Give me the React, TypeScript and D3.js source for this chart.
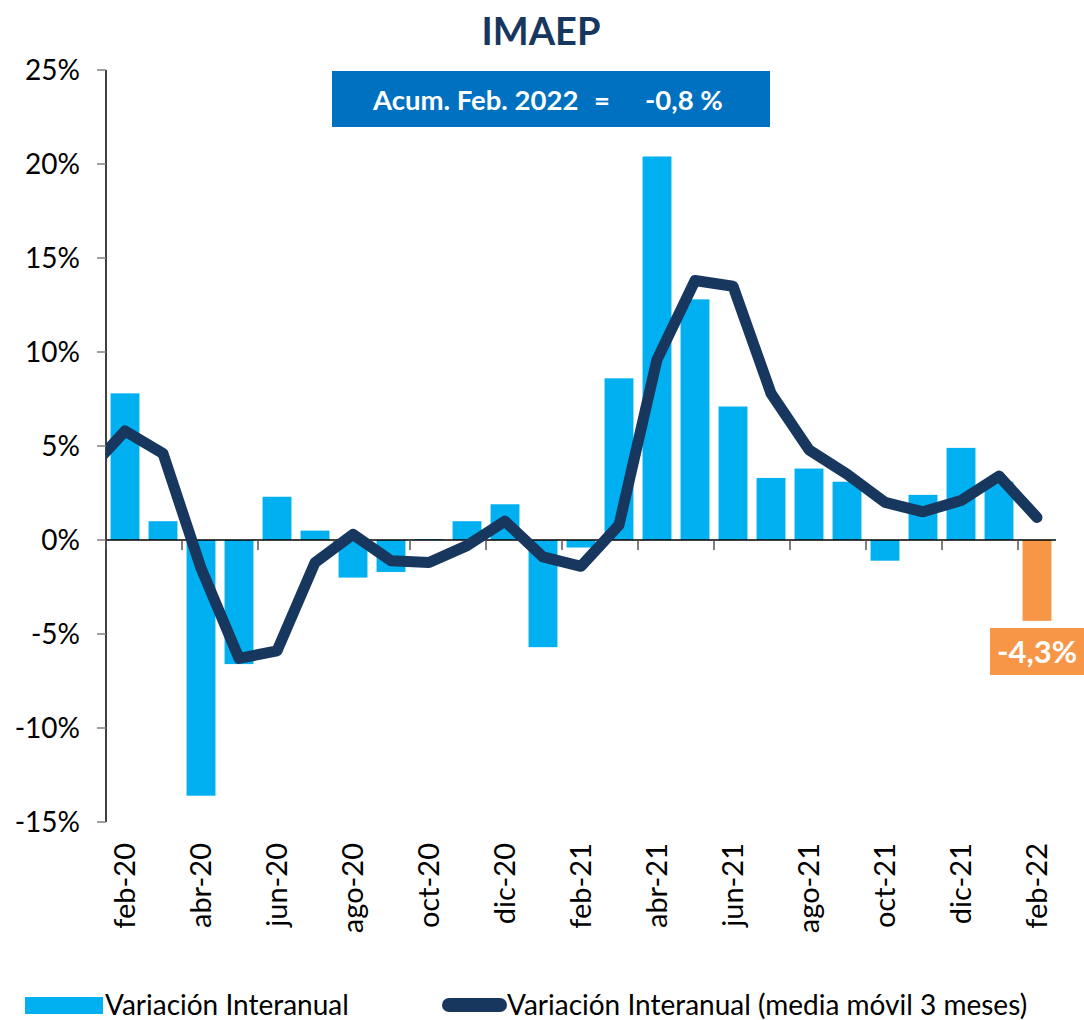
import React from "react";
import * as d3 from "d3";

const months = [
  "feb-20","mar-20","abr-20","may-20","jun-20","jul-20","ago-20","sep-20","oct-20","nov-20","dic-20",
  "ene-21","feb-21","mar-21","abr-21","may-21","jun-21","jul-21","ago-21","sep-21","oct-21","nov-21","dic-21",
  "ene-22","feb-22",
];
const interanual = [
  7.8, 1.0, -13.6, -6.6, 2.3, 0.5, -2.0, -1.7, 0.05, 1.0, 1.9,
  -5.7, -0.4, 8.6, 20.4, 12.8, 7.1, 3.3, 3.8, 3.1, -1.1, 2.4, 4.9,
  3.1, -4.3,
];
// previous month (ene-20) moving average, clipped at the axis
const mediaMovilPrev = 3.6;
const mediaMovil = [
  5.8, 4.6, -1.5, -6.3, -5.9, -1.2, 0.3, -1.1, -1.2, -0.3, 1.0,
  -0.9, -1.4, 0.8, 9.6, 13.8, 13.5, 7.8, 4.8, 3.5, 2.0, 1.5, 2.1,
  3.4, 1.2,
];
const yTicks = [25, 20, 15, 10, 5, 0, -5, -10, -15];
const xLabels = ["feb-20","abr-20","jun-20","ago-20","oct-20","dic-20","feb-21","abr-21","jun-21","ago-21","oct-21","dic-21","feb-22"];

const FONT = "Lato, 'Open Sans', sans-serif";
const LIGHT = "#00b0f0";
const DARK = "#17375e";
const ORANGE = "#f79646";

export default function App() {
  const W = 1084, H = 1020;
  const left = 106, right = 1056, top = 70, bottom = 822;
  const x = d3.scaleBand<string>().domain(months).range([left, right]).paddingInner(0.24).paddingOuter(0.12);
  const step = x.step();
  const y = d3.scaleLinear().domain([-15, 25]).range([bottom, top]);
  const cx = (i: number) => (x(months[i]) as number) + x.bandwidth() / 2;

  const pts: [number, number][] = [[cx(0) - step, y(mediaMovilPrev)], ...mediaMovil.map((v, i) => [cx(i), y(v)] as [number, number])];
  const line = d3.line<[number, number]>().x(d => d[0]).y(d => d[1]);

  const last = months.length - 1;
  const y0 = y(0);

  return (
    <svg width={W} height={H} style={{ position: "absolute", left: 0, top: 0, background: "#fff" }}>
      <defs>
        <clipPath id="plotclip">
          <rect x={left} y={0} width={W - left} height={H} />
        </clipPath>
      </defs>
      <text x={541} y={45} textAnchor="middle" fontFamily={FONT} fontWeight={700} fontSize={38} fill={DARK}>IMAEP</text>

      {/* y axis */}
      <line x1={left} x2={left} y1={top} y2={bottom} stroke="#000" strokeWidth={1.5} />
      {yTicks.map(t => (
        <g key={t}>
          <line x1={left - 9} x2={left} y1={y(t)} y2={y(t)} stroke="#808080" strokeWidth={1.5} />
          <text x={80} y={y(t) + 10} textAnchor="end" fontFamily={FONT} fontSize={28} fill="#000">{t}%</text>
        </g>
      ))}

      {/* bars */}
      {interanual.map((v, i) => (
        <rect key={months[i]} x={x(months[i])} width={x.bandwidth()}
          y={Math.min(y(v), y0)} height={Math.abs(y(v) - y0)}
          fill={i === last ? ORANGE : LIGHT} />
      ))}

      {/* zero axis */}
      <line x1={left} x2={right} y1={y0} y2={y0} stroke="#000" strokeWidth={1.5} />
      {d3.range(0, months.length + 1, 2).map(k => (
        <line key={k} x1={left + k * step} x2={left + k * step} y1={y0} y2={y0 + 10} stroke="#555" strokeWidth={1.5} />
      ))}

      {/* moving average line */}
      <path d={line(pts) as string} fill="none" stroke={DARK} strokeWidth={11} strokeLinejoin="round" strokeLinecap="round" clipPath="url(#plotclip)" />

      {/* x labels */}
      {xLabels.map(m => {
        const i = months.indexOf(m);
        const px = cx(i);
        return (
          <text key={m} transform={`translate(${px + 10},843) rotate(-90)`} textAnchor="end" fontFamily={FONT} fontSize={29} fill="#000">{m}</text>
        );
      })}

      {/* Acum box */}
      <rect x={332} y={71} width={438} height={56} fill="#0070c0" />
      <text x={373} y={110} fontFamily={FONT} fontWeight={700} fontSize={27.5} fill="#fff">Acum. Feb. 2022</text>
      <text x={594} y={110} fontFamily={FONT} fontWeight={700} fontSize={27.5} fill="#fff">=</text>
      <text x={645} y={110} fontFamily={FONT} fontWeight={700} fontSize={27.5} fill="#fff">-0,8 %</text>

      {/* last value label */}
      <rect x={990} y={628} width={94} height={47} fill={ORANGE} />
      <text x={1037} y={663} textAnchor="middle" fontFamily={FONT} fontWeight={700} fontSize={31} fill="#fff">-4,3%</text>

      {/* legend */}
      <rect x={25} y={997} width={78} height={17} fill={LIGHT} />
      <text x={105} y={1015} fontFamily={FONT} fontSize={28} fill="#000">Variación Interanual</text>
      <line x1={449} x2={500} y1={1005} y2={1005} stroke={DARK} strokeWidth={14} strokeLinecap="round" />
      <text x={507} y={1015} fontFamily={FONT} fontSize={28} fill="#000">Variación Interanual (media móvil 3 meses)</text>
    </svg>
  );
}
